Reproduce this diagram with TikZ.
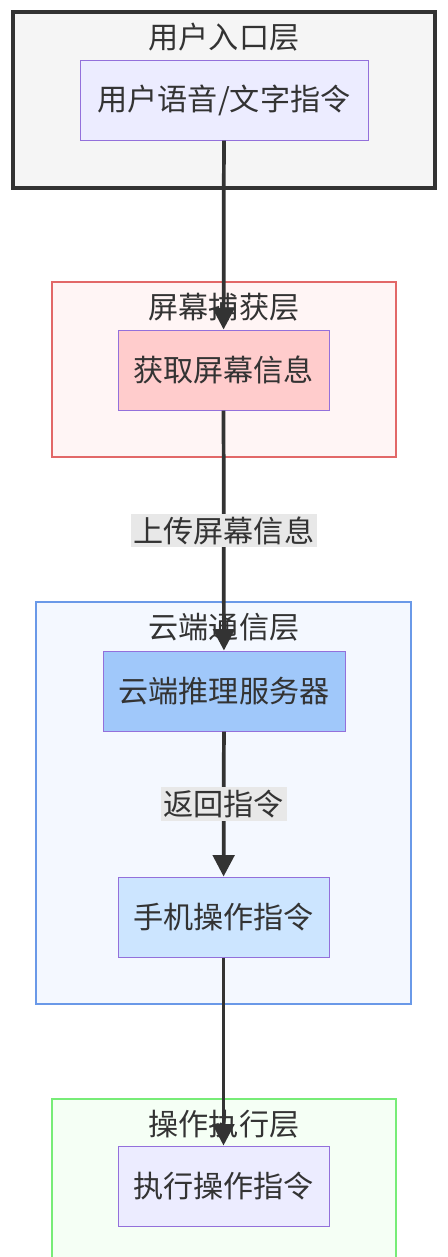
\documentclass[tikz,border=0pt]{standalone}
\usepackage{fontspec}
\setmainfont{Noto Sans CJK SC}
\usepackage{tikz}
\usetikzlibrary{arrows.meta}

\begin{document}
\begin{tikzpicture}[x=0.75pt,y=0.75pt,yscale=-1,xscale=1,
  every node/.append style={text={rgb, 255:red, 51; green, 51; blue, 51 }, font=\fontsize{22.6}{27}\selectfont},
  layer/.style={line width=2.1pt},
  cmdbox/.style={draw={rgb, 255:red, 147; green, 112; blue, 219 }, line width=0.75pt, minimum height=60pt, inner sep=0pt},
  flow/.style={draw={rgb, 255:red, 51; green, 51; blue, 51 }, line width=2.8pt, -{Triangle[length=16pt,width=16pt]}},
  flowlabel/.style={fill={rgb, 255:red, 232; green, 232; blue, 232 }, inner xsep=2pt, inner ysep=2pt}]
\useasboundingbox (0,0) rectangle (448,1257);

%Shape: Rectangle [id:user layer] 
\draw [draw={rgb, 255:red, 51; green, 51; blue, 51 }, fill={rgb, 255:red, 245; green, 245; blue, 245 }, line width=2.7pt]  (13,12) rectangle (435,188) ;
%Shape: Rectangle [id:screen layer] 
\draw [layer, draw={rgb, 255:red, 226; green, 104; blue, 104 }, fill={rgb, 255:red, 255; green, 245; blue, 245 }]  (52,282) rectangle (396,457) ;
%Shape: Rectangle [id:cloud layer] 
\draw [layer, draw={rgb, 255:red, 106; green, 153; blue, 232 }, fill={rgb, 255:red, 244; green, 248; blue, 255 }]  (36,602) rectangle (411,1004) ;
%Shape: Rectangle [id:exec layer] 
\draw [layer, draw={rgb, 255:red, 119; green, 236; blue, 119 }, fill={rgb, 255:red, 245; green, 255; blue, 245 }]  (52,1099) rectangle (396,1264) ;

% Text Node
\draw (224,37) node (tuser) {用户入口层};
% Text Node
\draw (224,307) node (tscreen) {屏幕捕获层};
% Text Node
\draw (224,627) node (tcloud) {云端通信层};
% Text Node
\draw (224,1124) node (texec) {操作执行层};

% Text Node
\draw (224,100) node (input) [cmdbox, minimum width=216pt, fill={rgb, 255:red, 236; green, 236; blue, 255 }] {用户语音/文字指令};
% Text Node
\draw (223.5,370) node (capture) [cmdbox, minimum width=158.25pt, fill={rgb, 255:red, 255; green, 204; blue, 204 }] {获取屏幕信息};
% Text Node
\draw (224,691) node (server) [cmdbox, minimum width=181.5pt, fill={rgb, 255:red, 160; green, 200; blue, 250 }] {云端推理服务器};
% Text Node
\draw (223.5,917) node (phone) [cmdbox, minimum width=158.25pt, fill={rgb, 255:red, 204; green, 229; blue, 255 }] {手机操作指令};
% Text Node
\draw (223.5,1186) node (run) [cmdbox, minimum width=158.25pt, fill={rgb, 255:red, 236; green, 236; blue, 255 }] {执行操作指令};

%Straight Lines 
\draw [flow] (input) -- (capture) ;
%Straight Lines 
\draw [flow] (capture) -- node [flowlabel] {上传屏幕信息} (server) ;
%Straight Lines 
\draw [flow] (server) -- node [flowlabel] {返回指令} (phone) ;
%Straight Lines 
\draw [flow] (phone) -- (run) ;

\end{tikzpicture}
\end{document}
